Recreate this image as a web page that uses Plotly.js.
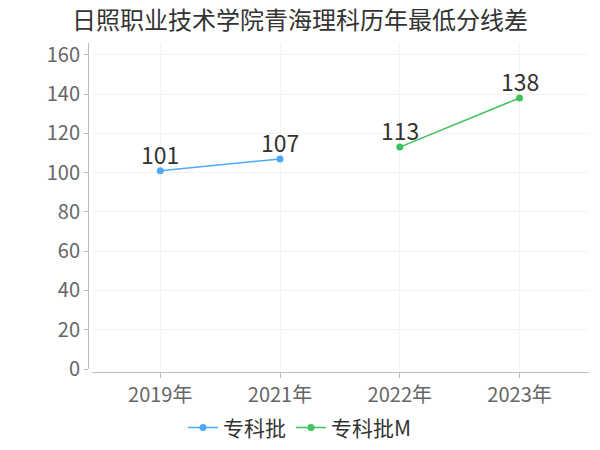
<!DOCTYPE html>
<html>
<head>
<meta charset="utf-8">
<script src="https://cdn.plot.ly/plotly-3.0.1.min.js"></script>
<style>html,body{margin:0;padding:0;background:#fff;}#chart{width:600px;height:450px;}</style>
</head>
<body>
<div id="chart"></div>
<script>
const categories = ["2019年", "2021年", "2022年", "2023年"];
const seriesNames = ["专科批", "专科批M"];
const series1X = ["2019年", "2021年"];
const series1Y = [101, 107];
const series2X = ["2022年", "2023年"];
const series2Y = [113, 138];
const yTicks = [0, 20, 40, 60, 80, 100, 120, 140, 160];

const font = '"Noto Sans CJK SC", "Noto Sans", sans-serif';
const colors = ["#4ea9fc", "#3ec25c"];

function trace(x, y, name, color) {
  return {
    type: "scatter", mode: "lines+markers",
    x: x, y: y, name: name,
    line: {color: color, width: 1.5},
    marker: {color: color, size: 7},
    cliponaxis: false, hoverinfo: "none"
  };
}

const data = [
  trace(series1X, series1Y, seriesNames[0], colors[0]),
  trace(series2X, series2Y, seriesNames[1], colors[1])
];

function labels(xs, ys) {
  return xs.map((x, i) => ({
    x: x, y: ys[i], xref: "x", yref: "y", text: String(ys[i]),
    showarrow: false, yshift: 17, yanchor: "middle", xanchor: "center",
    font: {family: font, size: 23, color: "#333"}
  }));
}

const layout = {
  width: 600, height: 450,
  margin: {l: 88, r: 11, t: 43, b: 78},
  paper_bgcolor: "#fff", plot_bgcolor: "#fff",
  title: {text: "日照职业技术学院青海理科历年最低分线差", font: {family: font, size: 24, color: "#333"}, x: 0.5, xanchor: "center", yref: "container", y: 0.955, yanchor: "middle"},
  xaxis: {
    type: "category", categoryorder: "array", categoryarray: categories,
    range: [-0.57, 3.58], domain: [0.008, 1], anchor: "free", position: 0,
    showline: true, linecolor: "#bbb", linewidth: 1,
    showgrid: true, gridcolor: "#f2f2f2", gridwidth: 1,
    ticks: "outside", ticklen: 5, tickcolor: "#bbb",
    tickfont: {family: font, size: 20, color: "#666"},
    zeroline: false, fixedrange: true, automargin: false
  },
  yaxis: {
    range: [0, 166], domain: [0.009, 1], anchor: "free", position: 0,
    tickvals: yTicks,
    showline: true, linecolor: "#bbb", linewidth: 1,
    showgrid: true, gridcolor: "#f2f2f2", gridwidth: 1,
    ticks: "outside", ticklen: 4, tickcolor: "#bbb",
    tickfont: {family: font, size: 20, color: "#666"},
    zeroline: false, fixedrange: true, automargin: false
  },
  annotations: labels(series1X, series1Y).concat(labels(series2X, series2Y)),
  showlegend: true,
  legend: {orientation: "h", xref: "container", yref: "container", x: 0.5, xanchor: "center", y: 0.049, yanchor: "middle",
    font: {family: font, size: 21, color: "#333"}, itemwidth: 30, tracegroupgap: 0}
};

Plotly.newPlot("chart", data, layout, {displayModeBar: false, staticPlot: true});
</script>
</body>
</html>
